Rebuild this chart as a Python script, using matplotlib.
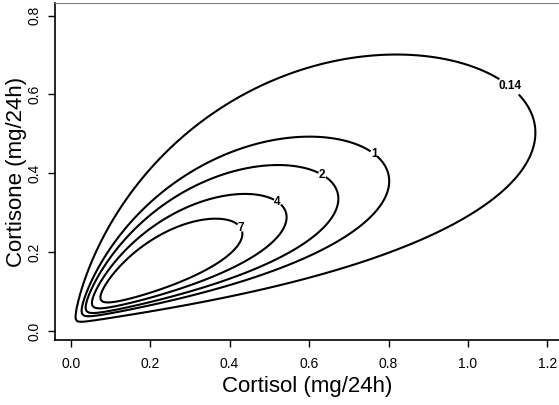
import numpy as np
import matplotlib.pyplot as plt

plt.rcParams['font.family'] = ['Liberation Sans', 'DejaVu Sans']

# bivariate normal model on Box-Cox scale for daily cortisol / cortisone excretion
lam = [0.178, 0.087]           # Box-Cox power for cortisol, cortisone
mu_bc = [-0.964, -1.358]       # means on the transformed scale
sd_bc = [0.5005, 0.4504]       # sds on the transformed scale
rho = 0.7646
levels = [0.14, 1, 2, 4, 7]
label_pos = [(1.113, 0.632), (0.758, 0.442), (0.632, 0.394), (0.523, 0.331), (0.449, 0.277)]


def boxcox(v, l):
    return (v**l - 1) / l


x = np.linspace(0.005, 1.25, 300)
y = np.linspace(0.005, 0.85, 280)
X, Y = np.meshgrid(x, y)
U = (boxcox(X, lam[0]) - mu_bc[0]) / sd_bc[0]
V = (boxcox(Y, lam[1]) - mu_bc[1]) / sd_bc[1]
Q = (U**2 - 2*rho*U*V + V**2) / (1 - rho**2)
Z = (np.exp(-Q/2) / (2*np.pi*sd_bc[0]*sd_bc[1]*np.sqrt(1 - rho**2))
     * X**(lam[0] - 1) * Y**(lam[1] - 1))

fig = plt.figure(figsize=(5.59, 4.05), dpi=100)
ax = fig.add_axes([55/559, 65/405, 504/559, 337/405])

cs = ax.contour(X, Y, Z, levels=levels, colors='black', linewidths=1.5)
labs = ax.clabel(cs, fmt={0.14: '0.14', 1: '1', 2: '2', 4: '4', 7: '7'},
                 manual=label_pos, inline=True, inline_spacing=1, fontsize=8.5)
for t in labs:
    t.set_rotation(0)
    t.set_fontweight('bold')

ax.set_xlim(-0.0395, 1.229)
ax.set_ylim(-0.0228, 0.832)
ax.set_xticks([0.0, 0.2, 0.4, 0.6, 0.8, 1.0, 1.2])
ax.set_yticks([0.0, 0.2, 0.4, 0.6, 0.8])
ax.xaxis.set_major_formatter(plt.FormatStrFormatter('%.1f'))
ax.yaxis.set_major_formatter(plt.FormatStrFormatter('%.1f'))
ax.tick_params(direction='out', length=5, width=1, labelsize=10)
ax.tick_params(axis='x', pad=7)
ax.tick_params(axis='y', pad=5)
plt.setp(ax.get_yticklabels(), rotation=90, va='center')

ax.spines['right'].set_visible(False)
ax.spines['top'].set_color('#808080')
ax.spines['left'].set_linewidth(1.2)
ax.spines['bottom'].set_linewidth(1.2)

ax.set_xlabel('Cortisol (mg/24h)', fontsize=16, va='center')
ax.set_ylabel('Cortisone (mg/24h)', fontsize=16, va='center')
ax.xaxis.set_label_coords(0.5, -0.139)
ax.yaxis.set_label_coords(-0.0764, 0.5)

fig.savefig('out.png', dpi=100)
